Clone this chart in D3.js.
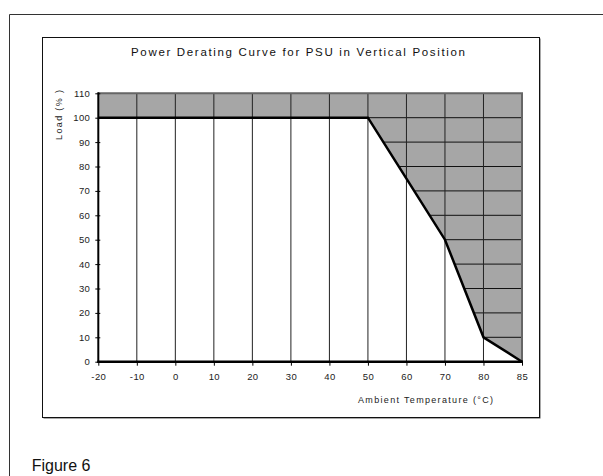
<!DOCTYPE html>
<html><head><meta charset="utf-8">
<script src="https://cdn.jsdelivr.net/npm/d3@7/dist/d3.min.js"></script>
<style>
html,body{margin:0;padding:0;background:#fff;}
svg{display:block;font-family:"Liberation Sans",Arial,sans-serif;}
</style></head>
<body>
<svg id="c" width="603" height="476"></svg>
<script>
const categories = ["-20","-10","0","10","20","30","40","50","60","70","80","85"];
const loadValues = [100,100,100,100,100,100,100,100,75,50,10,0];
const yTicks = [0,10,20,30,40,50,60,70,80,90,100,110];
const titleText = "Power Derating Curve for PSU in Vertical Position";
const xTitle = "Ambient Temperature (\u00B0C)";
const yTitle = "Load (% )";
const figLabel = "Figure 6";

const svg = d3.select("#c");
const yMax = 110;

// outer frame (top and left only)
svg.append("path").attr("d","M9.5,476 V14.5 H603").attr("fill","none").attr("stroke","#333").attr("stroke-width",1);

// chart box with small shadow
svg.append("rect").attr("x",43.5).attr("y",38.5).attr("width",497).attr("height",380).attr("fill","#555");
svg.append("rect").attr("x",42.5).attr("y",37.5).attr("width",497).attr("height",380).attr("fill","#fff").attr("stroke","#111").attr("stroke-width",1);

const x = d3.scalePoint().domain(categories).range([98.3, 522]);
const y = d3.scaleLinear().domain([0, yMax]).range([361.7, 93.3]);

const data = categories.map((c,i)=>({c, v:loadValues[i]}));

const g = svg.append("g");

// gray area above curve
const area = d3.area().x(d=>x(d.c)).y0(y(yMax)).y1(d=>y(d.v));
g.append("path").datum(data).attr("d", area).attr("fill","#a6a6a6");

// clip for horizontal gridlines (gray region only)
svg.append("defs").append("clipPath").attr("id","grayClip")
  .append("path").datum(data).attr("d", area);

g.append("g").attr("clip-path","url(#grayClip)")
  .selectAll("line").data(yTicks).join("line")
  .attr("x1", x(categories[0])).attr("x2", x(categories[categories.length-1]))
  .attr("y1", d=>y(d)).attr("y2", d=>y(d))
  .attr("stroke","#111").attr("stroke-width",1);

// vertical gridlines
g.append("g").selectAll("line").data(categories.slice(1)).join("line")
  .attr("x1", d=>x(d)).attr("x2", d=>x(d))
  .attr("y1", y(0)).attr("y2", y(yMax))
  .attr("stroke","#222").attr("stroke-width",1);

// top & right plot border
g.append("path")
  .attr("d", `M${x(categories[0])},${y(yMax)} H${x(categories[categories.length-1])} V${y(0)}`)
  .attr("fill","none").attr("stroke","#666").attr("stroke-width",2);

// curve
const line = d3.line().x(d=>x(d.c)).y(d=>y(d.v));
g.append("path").datum(data).attr("d", line).attr("fill","none").attr("stroke","#000").attr("stroke-width",2.5).attr("stroke-linejoin","miter");

const labelFont = "Liberation Sans, Arial, sans-serif";

// y axis
const yAxis = g.append("g").attr("transform",`translate(${x(categories[0])},0)`)
  .call(d3.axisLeft(y).tickValues(yTicks).tickSize(3).tickPadding(5).tickFormat(d3.format("d")));
yAxis.select(".domain").remove();
yAxis.selectAll(".tick line").attr("x1",2).attr("x2",-3).attr("stroke","#000");
yAxis.selectAll(".tick text").attr("font-size","9.5px").attr("fill","#222").attr("font-family",labelFont).attr("letter-spacing","0.4px");
g.append("line").attr("x1",x(categories[0])).attr("x2",x(categories[0])).attr("y1",y(0)+1).attr("y2",y(yMax)-1).attr("stroke","#000").attr("stroke-width",2);

// x axis
const xAxis = g.append("g").attr("transform",`translate(0,${y(0)})`)
  .call(d3.axisBottom(x).tickSize(4).tickPadding(8));
xAxis.select(".domain").remove();
xAxis.selectAll(".tick line").attr("stroke","#000");
xAxis.selectAll(".tick text").attr("font-size","9.5px").attr("fill","#222").attr("font-family",labelFont).attr("letter-spacing","0.4px");
g.append("line").attr("x1",x(categories[0])-1).attr("x2",x(categories[categories.length-1])+1).attr("y1",y(0)).attr("y2",y(0)).attr("stroke","#000").attr("stroke-width",2.5);

// titles
svg.append("text").attr("x",298).attr("y",55.5).attr("text-anchor","middle")
  .attr("font-size","11.5px").attr("fill","#111")
  .attr("textLength",334).attr("lengthAdjust","spacing").text(titleText);

svg.append("text").attr("x",425.5).attr("y",403).attr("text-anchor","middle")
  .attr("font-size","9px").attr("fill","#222")
  .attr("textLength",135).attr("lengthAdjust","spacing").text(xTitle);

svg.append("text").attr("transform","translate(61.5,115) rotate(-90)").attr("text-anchor","middle")
  .attr("font-size","9px").attr("fill","#222")
  .attr("textLength",50).attr("lengthAdjust","spacing").text(yTitle);

svg.append("text").attr("x",31.7).attr("y",470.5).attr("font-size","16px").attr("fill","#111").text(figLabel);
</script>
</body></html>
